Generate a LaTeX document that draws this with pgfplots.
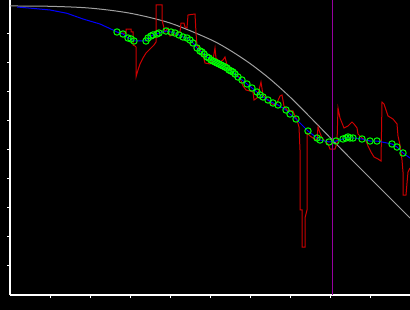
\documentclass[border=0pt]{standalone}
\usepackage{pgfplots}
\pgfplotsset{compat=1.18}
\usepackage{pgfplotstable}
\definecolor{curvegray}{RGB}{160,160,160}
\definecolor{dred}{RGB}{205,0,0}
\definecolor{vpurple}{RGB}{150,0,160}
\definecolor{lgreen}{RGB}{0,255,0}

\pgfplotstableread{
x y
0 9.966
1 9.955
2 9.893
3 9.717
4 9.379
5 8.817
5.5 8.438
6 7.983
6.5 7.448
7 6.828
7.5 6.138
8 5.431
8.5 4.724
9 4.034
9.5 3.345
10 2.655
}\graycurve

\pgfplotstableread{
x y
0.175 9.931
0.55 9.886
1.0 9.828
1.425 9.714
1.825 9.517
2.25 9.345
2.575 9.138
2.675 9.069
2.825 9.0
2.95 8.862
3.025 8.828
3.1 8.759
3.4 8.759
3.45 8.862
3.525 8.931
3.575 8.966
3.675 9.0
3.725 9.034
3.9 9.103
4.025 9.069
4.125 9.034
4.225 8.966
4.325 8.897
4.425 8.862
4.5 8.793
4.575 8.690
4.675 8.517
4.75 8.414
4.8 8.379
4.85 8.310
4.925 8.207
4.975 8.172
5.025 8.103
5.075 8.069
5.125 8.034
5.175 8.0
5.225 7.966
5.275 7.931
5.325 7.897
5.375 7.862
5.425 7.828
5.475 7.759
5.525 7.724
5.575 7.690
5.625 7.621
5.7 7.517
5.8 7.414
5.925 7.276
6.05 7.138
6.175 7.0
6.25 6.897
6.325 6.828
6.45 6.724
6.575 6.621
6.7 6.552
6.9 6.379
7.0 6.241
7.15 6.069
7.45 5.655
7.675 5.414
7.75 5.345
7.975 5.276
8.15 5.310
8.325 5.379
8.4 5.414
8.45 5.448
8.5 5.414
8.575 5.414
8.8 5.379
9.0 5.310
9.175 5.310
9.55 5.207
9.675 5.103
9.825 4.897
10 4.724
}\bluecurve

\pgfplotstableread{
x y
2.675 9.069
2.825 9.0
2.95 8.862
3.025 8.828
3.1 8.759
3.4 8.759
3.45 8.862
3.525 8.931
3.575 8.966
3.675 9.0
3.725 9.034
3.9 9.103
4.025 9.069
4.125 9.034
4.225 8.966
4.325 8.897
4.425 8.862
4.5 8.793
4.575 8.690
4.675 8.517
4.75 8.414
4.8 8.379
4.85 8.310
4.925 8.207
4.975 8.172
5.025 8.103
5.075 8.069
5.125 8.034
5.175 8.0
5.225 7.966
5.275 7.931
5.325 7.897
5.375 7.862
5.425 7.828
5.475 7.759
5.525 7.724
5.575 7.690
5.625 7.621
5.7 7.517
5.8 7.414
5.925 7.276
6.05 7.138
6.175 7.0
6.25 6.897
6.325 6.828
6.45 6.724
6.575 6.621
6.7 6.552
6.9 6.379
7.0 6.241
7.15 6.069
7.45 5.655
7.675 5.414
7.75 5.345
7.975 5.276
8.15 5.310
8.325 5.379
8.4 5.414
8.45 5.448
8.5 5.414
8.575 5.414
8.8 5.379
9.0 5.310
9.175 5.310
9.55 5.207
9.675 5.103
9.825 4.897
}\circles

\pgfplotstableread{
x y
2.7 9.034
2.9 9.034
2.9 9.172
3.025 9.172
3.025 9.069
3.075 9.069
3.075 8.621
3.125 8.586
3.15 8.552
3.15 7.517
3.2 7.759
3.25 7.966
3.325 8.172
3.4 8.345
3.5 8.483
3.6 8.621
3.65 8.724
3.65 10.0
3.8 10.0
3.8 9.483
3.85 9.207
3.875 9.069
3.95 9.207
4.0 8.931
4.125 9.0
4.25 9.069
4.275 9.379
4.35 9.379
4.375 9.241
4.425 9.207
4.45 9.655
4.625 9.690
4.65 9.034
4.675 8.621
4.725 8.517
4.825 8.276
4.875 8.0
5.0 7.966
5.075 8.103
5.125 8.517
5.15 8.172
5.25 8.034
5.325 8.103
5.375 8.207
5.425 7.931
5.5 7.828
5.575 7.655
5.675 7.586
5.75 7.483
5.825 7.207
5.9 7.069
6.0 7.034
6.075 7.0
6.1 6.724
6.175 6.793
6.275 7.345
6.325 6.897
6.45 6.724
6.55 6.586
6.65 6.552
6.75 6.862
6.8 6.897
6.85 6.517
6.95 6.345
7.075 6.345
7.125 6.172
7.175 6.034
7.225 5.793
7.25 5.0
7.25 2.931
7.3 2.931
7.3 1.655
7.375 1.655
7.375 2.655
7.425 2.931
7.425 5.0
7.425 5.586
7.5 5.483
7.575 5.414
7.675 5.345
7.7 5.793
7.75 5.586
7.8 5.414
7.875 5.310
7.95 5.207
8.0 5.034
8.125 5.034
8.175 5.241
8.2 6.448
8.25 6.103
8.3 5.931
8.35 5.759
8.45 5.828
8.55 5.966
8.6 5.897
8.675 5.759
8.7 5.552
8.8 5.414
8.9 5.310
8.95 5.138
9.025 4.931
9.1 4.759
9.2 4.690
9.275 4.621
9.3 6.655
9.35 6.586
9.4 6.379
9.45 6.172
9.575 6.069
9.675 5.897
9.7 5.483
9.75 5.172
9.8 4.655
9.825 4.241
9.825 3.448
9.9 3.448
9.925 3.862
9.95 4.241
10.0 4.379
}\redline

\begin{document}
\begin{tikzpicture}
\fill[black] (0,0) rectangle (410bp,310bp);
\begin{axis}[
  at={(10bp,15bp)}, anchor=south west,
  scale only axis, width=400bp, height=295bp,
  xmin=0, xmax=10, ymin=0, ymax=10.1724,
  axis x line*=bottom, axis y line*=left,
  axis line style={white, line width=1.2bp},
  xtick={1,...,9}, ytick={1,...,9},
  xticklabels={}, yticklabels={},
  tick align=outside, major tick length=3bp,
  tick style={white, line width=1bp},
  clip=true,
]
\addplot[curvegray, line width=1bp, smooth] table {\graycurve};
\addplot[dred, line width=1bp] table {\redline};
\addplot[blue, line width=1bp] table {\bluecurve};
\addplot[only marks, mark=o, mark size=3.2bp, mark options={lgreen, line width=1bp}] table {\circles};
\addplot[vpurple, line width=1bp] coordinates {(8.05,0) (8.05,10.1724)};
\end{axis}
\pgfresetboundingbox
\useasboundingbox (0,0) rectangle (410bp,310bp);
\end{tikzpicture}
\end{document}
